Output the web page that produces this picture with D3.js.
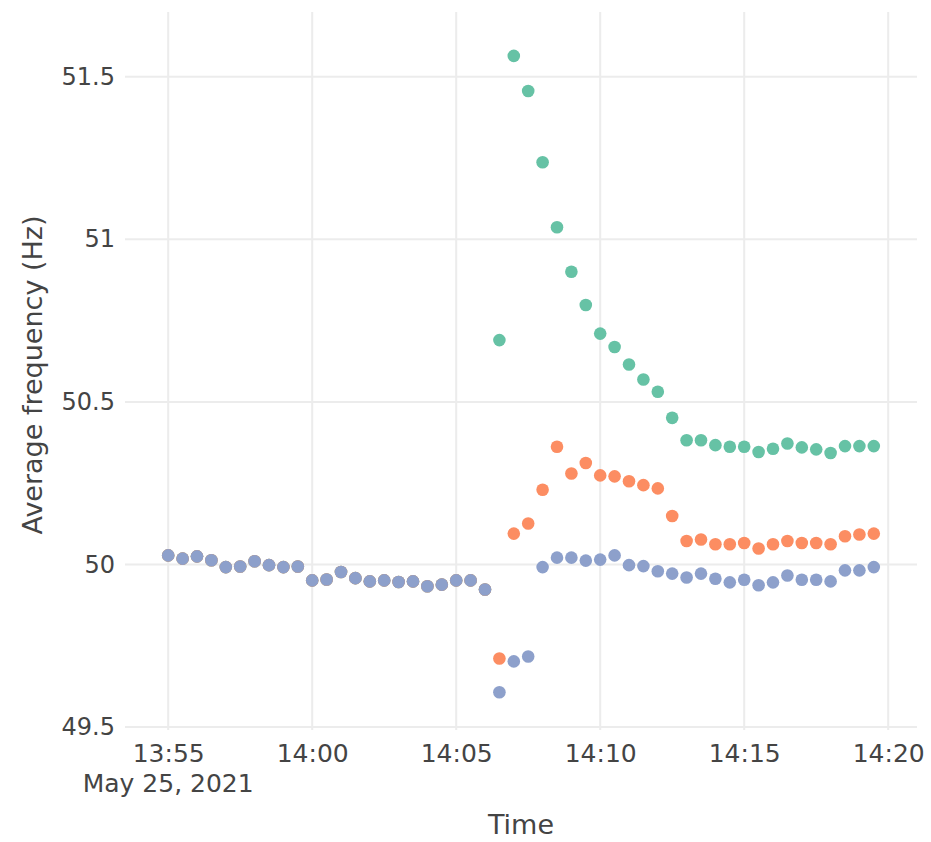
<!DOCTYPE html>
<html>
<head>
<meta charset="utf-8">
<script src="https://cdn.jsdelivr.net/npm/d3@7/dist/d3.min.js"></script>
<style>
  html, body { margin: 0; padding: 0; background: #fff; }
  svg { display: block; }
  text { font-family: "DejaVu Sans", Verdana, sans-serif; fill: #444; }
</style>
</head>
<body>
<svg id="chart" width="931" height="842"></svg>
<script>
// Sample times (30 s steps), 25 May 2021
const times = [
  "13:55:00","13:55:30","13:56:00","13:56:30","13:57:00","13:57:30","13:58:00","13:58:30",
  "13:59:00","13:59:30","14:00:00","14:00:30","14:01:00","14:01:30","14:02:00","14:02:30",
  "14:03:00","14:03:30","14:04:00","14:04:30","14:05:00","14:05:30","14:06:00","14:06:30",
  "14:07:00","14:07:30","14:08:00","14:08:30","14:09:00","14:09:30","14:10:00","14:10:30",
  "14:11:00","14:11:30","14:12:00","14:12:30","14:13:00","14:13:30","14:14:00","14:14:30",
  "14:15:00","14:15:30","14:16:00","14:16:30","14:17:00","14:17:30","14:18:00","14:18:30",
  "14:19:00","14:19:30"
];
const dateLabel = "May 25, 2021";

// Average frequency (Hz) per series
const greenSeries = [
  50.028, 50.018, 50.025, 50.013, 49.992, 49.994, 50.010, 49.998, 49.992, 49.994,
  49.951, 49.954, 49.977, 49.958, 49.948, 49.951, 49.946, 49.948, 49.933, 49.938,
  49.951, 49.951, 49.923,
  50.690, 51.564, 51.456, 51.237, 51.037, 50.900, 50.798, 50.710, 50.669, 50.615,
  50.569, 50.531, 50.451, 50.382, 50.382, 50.367, 50.362, 50.362, 50.346, 50.356,
  50.372, 50.360, 50.354, 50.343, 50.364, 50.364, 50.364
];
const orangeSeries = [
  50.028, 50.018, 50.025, 50.013, 49.992, 49.994, 50.010, 49.998, 49.992, 49.994,
  49.951, 49.954, 49.977, 49.958, 49.948, 49.951, 49.946, 49.948, 49.933, 49.938,
  49.951, 49.951, 49.923,
  49.711, 50.095, 50.126, 50.230, 50.362, 50.280, 50.312, 50.274, 50.271, 50.256,
  50.244, 50.234, 50.149, 50.072, 50.077, 50.062, 50.062, 50.066, 50.049, 50.062,
  50.072, 50.066, 50.066, 50.062, 50.087, 50.092, 50.095
];
const blueSeries = [
  50.028, 50.018, 50.025, 50.013, 49.992, 49.994, 50.010, 49.998, 49.992, 49.994,
  49.951, 49.954, 49.977, 49.958, 49.948, 49.951, 49.946, 49.948, 49.933, 49.938,
  49.951, 49.951, 49.923,
  49.607, 49.702, 49.717, 49.992, 50.021, 50.021, 50.012, 50.015, 50.028, 49.998,
  49.995, 49.979, 49.972, 49.960, 49.972, 49.956, 49.945, 49.953, 49.936, 49.945,
  49.966, 49.953, 49.953, 49.948, 49.982, 49.982, 49.992
];

const yTickValues = [49.5, 50, 50.5, 51, 51.5];
const yTickLabels = ["49.5", "50", "50.5", "51", "51.5"];
const xTickLabels = ["13:55", "14:00", "14:05", "14:10", "14:15", "14:20"];

const xTitle = "Time";
const yTitle = "Average frequency (Hz)";

const seriesList = [
  { name: "green", values: greenSeries, color: "#66c2a5" },
  { name: "orange", values: orangeSeries, color: "#fc8d62" },
  { name: "blue", values: blueSeries, color: "#8da0cb" }
];

// ---- layout ----
const svg = d3.select("#chart");
const plot = { left: 125, right: 917, top: 12, bottom: 730 };

const parseTime = d3.timeParse("%Y-%m-%d %H:%M:%S");
const toDate = s => parseTime("2021-05-25 " + s);
const parseTick = d3.timeParse("%Y-%m-%d %H:%M");

// time range padded around the samples
const x = d3.scaleTime()
  .domain([toDate("13:53:30"), toDate("14:21:00")])
  .range([plot.left, plot.right]);

const y = d3.scaleLinear()
  .domain([49.491, 51.699])
  .range([plot.bottom, plot.top]);

// ---- grid ----
const grid = svg.append("g").attr("class", "grid");
const xTickDates = xTickLabels.map(t => parseTick("2021-05-25 " + t));

grid.selectAll("line.vx").data(xTickDates).enter().append("line")
  .attr("class", "vx")
  .attr("x1", d => x(d)).attr("x2", d => x(d))
  .attr("y1", plot.top).attr("y2", plot.bottom)
  .attr("stroke", "#ececec").attr("stroke-width", 2);

grid.selectAll("line.hy").data(yTickValues).enter().append("line")
  .attr("class", "hy")
  .attr("x1", plot.left).attr("x2", plot.right)
  .attr("y1", d => y(d)).attr("y2", d => y(d))
  .attr("stroke", "#ececec").attr("stroke-width", 2);

// ---- axes (labels only, no axis lines) ----
const yAxis = d3.axisLeft(y)
  .tickValues(yTickValues)
  .tickFormat((d, i) => yTickLabels[i])
  .tickSize(0)
  .tickPadding(10);
const gy = svg.append("g").attr("transform", `translate(${plot.left},0)`).call(yAxis);
gy.select(".domain").remove();
gy.selectAll("text")
  .style("font-family", "'DejaVu Sans', Verdana, sans-serif")
  .style("font-size", "24px")
  .attr("fill", "#444");

const xAxis = d3.axisBottom(x)
  .tickValues(xTickDates)
  .tickFormat((d, i) => xTickLabels[i])
  .tickSize(0)
  .tickPadding(0);
const gx = svg.append("g").attr("transform", `translate(0,${plot.bottom})`).call(xAxis);
gx.select(".domain").remove();
gx.selectAll("text")
  .attr("dy", null)
  .attr("y", 32)
  .style("font-family", "'DejaVu Sans', Verdana, sans-serif")
  .style("font-size", "25px")
  .attr("fill", "#444");

// date line under the first tick
svg.append("text")
  .attr("x", x(xTickDates[0]))
  .attr("y", 792)
  .attr("text-anchor", "middle")
  .style("font-size", "25px")
  .text(dateLabel);

// ---- titles ----
svg.append("text")
  .attr("x", (plot.left + plot.right) / 2)
  .attr("y", 834)
  .attr("text-anchor", "middle")
  .style("font-size", "27px")
  .text(xTitle);

svg.append("text")
  .attr("transform", `translate(42,375) rotate(-90)`)
  .attr("text-anchor", "middle")
  .style("font-size", "27px")
  .text(yTitle);

// ---- markers ----
const marks = svg.append("g").attr("class", "marks");
seriesList.forEach(s => {
  marks.append("g")
    .attr("class", "series-" + s.name)
    .selectAll("circle")
    .data(s.values.map((v, i) => ({ t: toDate(times[i]), v })))
    .enter().append("circle")
    .attr("cx", d => x(d.t))
    .attr("cy", d => y(d.v))
    .attr("r", 6.3)
    .attr("fill", s.color);
});
</script>
</body>
</html>
